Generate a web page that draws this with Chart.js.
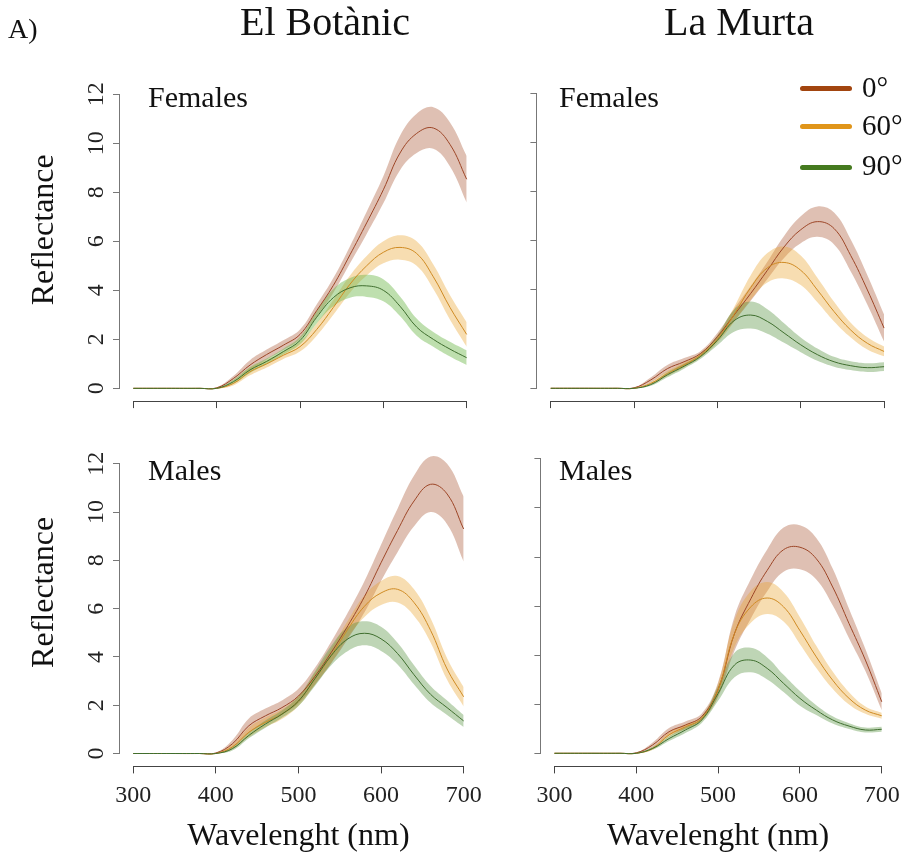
<!DOCTYPE html>
<html>
<head>
<meta charset="utf-8">
<script src="https://cdn.jsdelivr.net/npm/chart.js@4.4.1/dist/chart.umd.min.js"></script>
<style>
body { margin: 0; background: #fff; }
#fig { position: relative; width: 908px; height: 859px; overflow: hidden; font-family: "Liberation Serif", serif; color: #111; }
#fig canvas { position: absolute; }
.txt { position: absolute; line-height: 1; white-space: nowrap; }
.leg { position: absolute; left: 800px; width: 52px; height: 5px; border-radius: 3px; }
</style>
</head>
<body>
<div id="fig">
  <canvas id="c1"></canvas>
  <canvas id="c2"></canvas>
  <canvas id="c3"></canvas>
  <canvas id="c4"></canvas>

  <div class="txt" style="left:8px;top:14.6px;font-size:28px">A)</div>
  <div class="txt" style="left:225px;width:200px;text-align:center;top:1.5px;font-size:40px">El Botànic</div>
  <div class="txt" style="left:639px;width:200px;text-align:center;top:1.5px;font-size:40px">La Murta</div>
  <div class="txt" style="left:148px;top:82px;font-size:30px">Females</div>
  <div class="txt" style="left:559px;top:82px;font-size:30px">Females</div>
  <div class="txt" style="left:148px;top:455px;font-size:30px">Males</div>
  <div class="txt" style="left:559px;top:455px;font-size:30px">Males</div>
  <div id="legend"></div>
</div>

<script>
// wavelength grid (nm) shared by every curve
const wavelength = [300, 340, 380, 400, 420, 440, 460, 480, 500, 520, 540, 560, 580, 600, 620, 640, 660, 680, 700];
const xTicks = [300, 400, 500, 600, 700];
const yTicks = [0, 2, 4, 6, 8, 10, 12];
const angleLabels = ['0°', '60°', '90°'];

// El Botànic - females
const botFem0    = [0, 0, 0, 0.02, 0.4, 0.95, 1.38, 1.76, 2.2, 3.17, 4.2, 5.45, 6.75, 8.1, 9.6, 10.4, 10.62, 9.95, 8.53];
const botFem0Sd  = [0, 0, 0, 0.02, 0.1, 0.2, 0.2, 0.2, 0.2, 0.25, 0.3, 0.35, 0.45, 0.55, 0.7, 0.8, 0.85, 0.9, 0.95];
const botFem60   = [0, 0, 0, 0, 0.2, 0.68, 1.0, 1.35, 1.7, 2.4, 3.3, 4.25, 5.0, 5.55, 5.75, 5.5, 4.55, 3.3, 2.2];
const botFem60Sd = [0, 0, 0, 0.01, 0.08, 0.15, 0.15, 0.15, 0.2, 0.25, 0.3, 0.35, 0.4, 0.45, 0.5, 0.5, 0.5, 0.5, 0.5];
const botFem90   = [0, 0, 0, 0, 0.27, 0.75, 1.1, 1.5, 1.95, 2.9, 3.7, 4.1, 4.18, 4.0, 3.35, 2.5, 2.0, 1.6, 1.25];
const botFem90Sd = [0, 0, 0, 0.01, 0.08, 0.12, 0.12, 0.12, 0.15, 0.25, 0.35, 0.4, 0.45, 0.45, 0.4, 0.35, 0.3, 0.3, 0.3];

// La Murta - females
const murFem0    = [0, 0, 0, 0.02, 0.34, 0.8, 1.08, 1.42, 2.1, 2.98, 3.86, 4.8, 5.75, 6.45, 6.78, 6.5, 5.4, 4.0, 2.45];
const murFem0Sd  = [0, 0, 0, 0.01, 0.1, 0.15, 0.15, 0.1, 0.15, 0.25, 0.3, 0.35, 0.45, 0.55, 0.62, 0.65, 0.65, 0.6, 0.55];
const murFem60   = [0, 0, 0, 0, 0.2, 0.6, 0.95, 1.35, 2.0, 3.0, 4.1, 4.9, 5.12, 4.8, 4.0, 3.12, 2.37, 1.83, 1.5];
const murFem60Sd = [0, 0, 0, 0.01, 0.06, 0.1, 0.1, 0.1, 0.15, 0.3, 0.5, 0.6, 0.65, 0.6, 0.5, 0.4, 0.3, 0.25, 0.2];
const murFem90   = [0, 0, 0, 0, 0.15, 0.55, 0.9, 1.3, 1.95, 2.75, 2.98, 2.72, 2.25, 1.77, 1.37, 1.08, 0.92, 0.84, 0.88];
const murFem90Sd = [0, 0, 0, 0.01, 0.05, 0.1, 0.1, 0.1, 0.2, 0.45, 0.55, 0.5, 0.4, 0.3, 0.25, 0.2, 0.18, 0.18, 0.18];

// El Botànic - males
const botMal0    = [0, 0, 0, 0.02, 0.4, 1.15, 1.56, 1.9, 2.38, 3.2, 4.2, 5.3, 6.5, 7.9, 9.24, 10.46, 11.15, 10.75, 9.3];
const botMal0Sd  = [0, 0, 0, 0.02, 0.15, 0.3, 0.3, 0.3, 0.3, 0.35, 0.45, 0.55, 0.65, 0.75, 0.9, 1.05, 1.15, 1.25, 1.35];
const botMal60   = [0, 0, 0, 0, 0.27, 0.88, 1.29, 1.63, 2.17, 3.1, 4.07, 5.16, 6.1, 6.65, 6.8, 6.25, 5.1, 3.5, 2.35];
const botMal60Sd = [0, 0, 0, 0.01, 0.1, 0.2, 0.2, 0.2, 0.2, 0.25, 0.3, 0.35, 0.45, 0.5, 0.55, 0.55, 0.5, 0.45, 0.4];
const botMal90   = [0, 0, 0, 0, 0.2, 0.75, 1.22, 1.63, 2.17, 3.1, 4.07, 4.75, 4.98, 4.75, 4.14, 3.26, 2.45, 1.9, 1.35];
const botMal90Sd = [0, 0, 0, 0.01, 0.08, 0.12, 0.15, 0.15, 0.2, 0.3, 0.4, 0.5, 0.5, 0.5, 0.45, 0.4, 0.35, 0.3, 0.25];

// La Murta - males
const murMal0    = [0, 0, 0, 0.02, 0.34, 0.88, 1.15, 1.5, 2.6, 4.88, 6.3, 7.46, 8.3, 8.4, 7.93, 6.78, 5.29, 3.8, 2.1];
const murMal0Sd  = [0, 0, 0, 0.01, 0.1, 0.15, 0.15, 0.12, 0.3, 0.7, 0.8, 0.85, 0.9, 0.9, 0.85, 0.75, 0.6, 0.45, 0.35];
const murMal60   = [0, 0, 0, 0, 0.2, 0.75, 1.08, 1.42, 2.6, 4.88, 5.97, 6.33, 5.97, 5.0, 3.93, 2.98, 2.24, 1.76, 1.53];
const murMal60Sd = [0, 0, 0, 0.01, 0.06, 0.1, 0.1, 0.1, 0.25, 0.55, 0.65, 0.65, 0.6, 0.55, 0.45, 0.35, 0.25, 0.15, 0.12];
const murMal90   = [0, 0, 0, 0, 0.2, 0.6, 0.95, 1.36, 2.44, 3.6, 3.8, 3.46, 2.85, 2.24, 1.76, 1.36, 1.11, 0.95, 0.98];
const murMal90Sd = [0, 0, 0, 0.01, 0.06, 0.1, 0.12, 0.12, 0.3, 0.5, 0.5, 0.45, 0.35, 0.3, 0.2, 0.15, 0.12, 0.1, 0.1];

// colours
const legendColors = ['#A2450F', '#E0951A', '#457A1F'];
const meanColors = ['#9C4526', '#CF8A22', '#3F6E2E'];
const bandColors = ['rgba(165,80,45,0.36)', 'rgba(232,160,40,0.36)', 'rgba(85,145,60,0.38)'];

Chart.defaults.font.family = '"Liberation Serif", serif';
Chart.defaults.color = '#111';

// R style axis lines: only from first to last tick
const rAxes = {
  id: 'rAxes',
  afterDraw(chart) {
    const {ctx, scales: {x, y}} = chart;
    ctx.save();
    ctx.lineWidth = 1;
    ctx.strokeStyle = '#444';
    ctx.beginPath();
    const xb = Math.round(x.top) + 0.5;
    ctx.moveTo(x.getPixelForValue(xTicks[0]), xb);
    ctx.lineTo(x.getPixelForValue(xTicks[xTicks.length - 1]), xb);
    ctx.stroke();
    ctx.strokeStyle = '#777';
    ctx.beginPath();
    const yl = Math.round(y.right) - 0.5;
    ctx.moveTo(yl, y.getPixelForValue(yTicks[0]));
    ctx.lineTo(yl, y.getPixelForValue(yTicks[yTicks.length - 1]));
    ctx.stroke();
    ctx.restore();
  }
};

const panels = [
  { id: 'c1', mean: [botFem0, botFem60, botFem90], sd: [botFem0Sd, botFem60Sd, botFem90Sd],
    yMin: -0.52, yMax: 13.46, yLabels: true, xLabels: false, greenBand: 'rgba(110,185,75,0.45)',
    box: { left: 0, top: 40, w: 490, h: 380, yw: 120, xh: 18.9, pt: 17.4, pr: 10 } },
  { id: 'c2', mean: [murFem0, murFem60, murFem90], sd: [murFem0Sd, murFem60Sd, murFem90Sd],
    yMin: -0.52, yMax: 13.46, yLabels: false, xLabels: false,
    box: { left: 460, top: 40, w: 448, h: 380, yw: 77.4, xh: 18.9, pt: 17.4, pr: 10.6 } },
  { id: 'c3', mean: [botMal0, botMal60, botMal90], sd: [botMal0Sd, botMal60Sd, botMal90Sd],
    yMin: -0.534, yMax: 13.88, yLabels: true, xLabels: true,
    box: { left: 0, top: 400, w: 490, h: 459, yw: 120, xh: 92.6, pt: 12.8, pr: 10 } },
  { id: 'c4', mean: [murMal0, murMal60, murMal90], sd: [murMal0Sd, murMal60Sd, murMal90Sd],
    yMin: -0.534, yMax: 13.88, yLabels: false, xLabels: true,
    box: { left: 460, top: 400, w: 448, h: 459, yw: 81.4, xh: 92.6, pt: 12.8, pr: 6.6 } }
];

function pts(m, s, sign) {
  return wavelength.map((w, i) => ({ x: w, y: m[i] + sign * (s ? s[i] : 0) }));
}

panels.forEach(p => {
  const cv = document.getElementById(p.id);
  const b = p.box;
  cv.width = b.w; cv.height = b.h;
  cv.style.left = b.left + 'px'; cv.style.top = b.top + 'px';
  cv.style.width = b.w + 'px'; cv.style.height = b.h + 'px';

  const datasets = [];
  for (let k = 0; k < 3; k++) {
    const band = (k === 2 && p.greenBand) ? p.greenBand : bandColors[k];
    datasets.push({ data: pts(p.mean[k], p.sd[k], -1), borderWidth: 0, pointRadius: 0, fill: false, order: 10 - k });
    datasets.push({ data: pts(p.mean[k], p.sd[k], 1), borderWidth: 0, pointRadius: 0, fill: '-1', backgroundColor: band, order: 10 - k });
  }
  for (let k = 0; k < 3; k++) {
    datasets.push({ label: angleLabels[k], data: pts(p.mean[k], null, 0), borderColor: meanColors[k], borderWidth: 1, pointRadius: 0, fill: false, order: 3 - k });
  }

  new Chart(cv, {
    type: 'line',
    data: { datasets },
    options: {
      responsive: false,
      animation: false,
      devicePixelRatio: 1,
      events: [],
      elements: { line: { tension: 0.4 } },
      layout: { padding: { top: b.pt, right: b.pr, left: 0, bottom: 0 } },
      plugins: { legend: { display: false }, tooltip: { enabled: false } },
      scales: {
        x: {
          type: 'linear', min: 284, max: 716,
          afterBuildTicks: s => { s.ticks = xTicks.map(v => ({ value: v })); },
          afterFit: s => { s.height = b.xh; },
          grid: { drawOnChartArea: false, drawTicks: true, tickLength: 7, color: '#444' },
          border: { display: false },
          ticks: { display: p.xLabels, font: { size: 24 }, color: '#222', padding: 8, maxRotation: 0 },
          title: { display: p.xLabels, text: 'Wavelenght (nm)', font: { size: 32 }, color: '#111', padding: { top: 0, bottom: 3 } }
        },
        y: {
          type: 'linear', min: p.yMin, max: p.yMax,
          afterBuildTicks: s => { s.ticks = yTicks.map(v => ({ value: v })); },
          afterFit: s => { s.width = b.yw; },
          grid: { drawOnChartArea: false, drawTicks: true, tickLength: 7, color: '#777' },
          border: { display: false },
          ticks: { display: p.yLabels, font: { size: 24 }, color: '#222', padding: 4, minRotation: 90, maxRotation: 90, crossAlign: 'center' },
          title: { display: p.yLabels, text: 'Reflectance', font: { size: 32 }, color: '#111', padding: { top: 25, bottom: 0 } }
        }
      }
    },
    plugins: [rAxes]
  });
});

// legend (top right panel)
const leg = document.getElementById('legend');
const legY = [85.5, 123.5, 164.5];
const legTextTop = [72.7, 110.7, 150.7];
angleLabels.forEach((lab, k) => {
  const ln = document.createElement('div');
  ln.className = 'leg';
  ln.style.top = legY[k] + 'px';
  ln.style.background = legendColors[k];
  leg.appendChild(ln);
  const t = document.createElement('div');
  t.className = 'txt';
  t.style.left = '862px';
  t.style.top = legTextTop[k] + 'px';
  t.style.fontSize = '29px';
  t.textContent = lab;
  leg.appendChild(t);
});
</script>
</body>
</html>
